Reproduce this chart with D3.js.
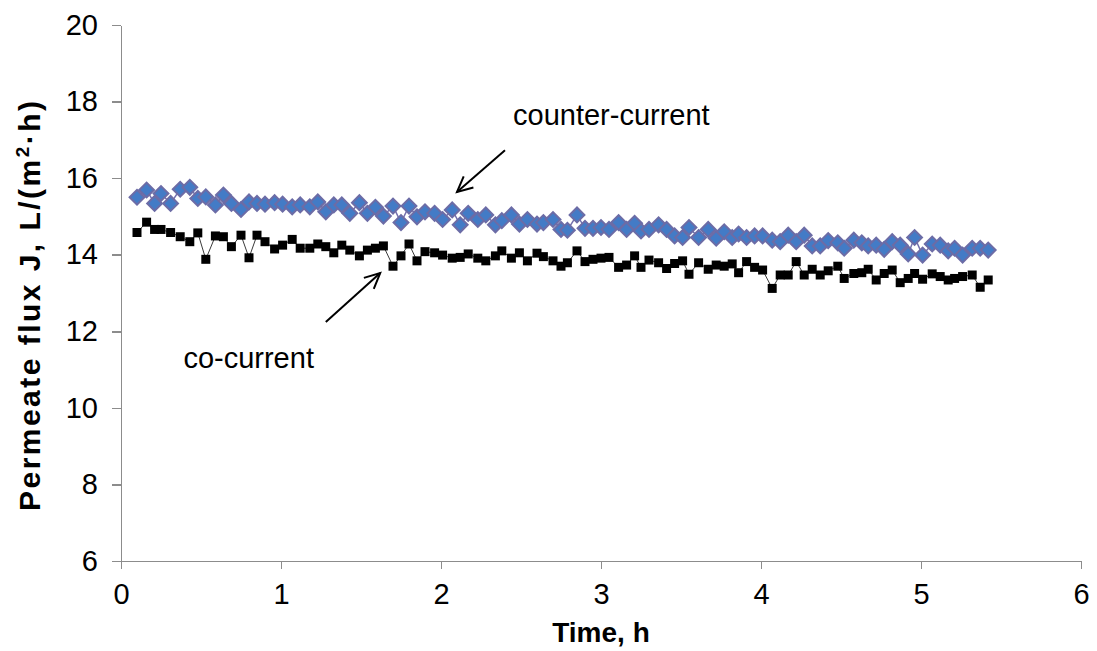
<!DOCTYPE html>
<html>
<head>
<meta charset="utf-8">
<title>Permeate flux</title>
<script src="https://d3js.org/d3.v7.min.js"></script>
<style>
  body { margin: 0; background: #fff; }
  .axis path, .axis line { stroke: #8c8c8c; stroke-width: 1.5; shape-rendering: crispEdges; }
  .axis text { font-family: "Liberation Sans", Arial, sans-serif; font-size: 29px; fill: #000; }
  .label { font-family: "Liberation Sans", Arial, sans-serif; font-size: 29px; fill: #000; }
  .title { font-family: "Liberation Sans", Arial, sans-serif; font-size: 28px; font-weight: bold; fill: #000; }
</style>
</head>
<body>
<svg id="chart" width="1097" height="651"></svg>
<script>
// time, h
const time = [0.10,0.16,0.21,0.25,0.31,0.37,0.43,0.48,0.53,0.59,0.64,0.69,0.75,0.80,0.85,0.90,0.96,1.01,1.07,1.12,
  1.18,1.23,1.28,1.33,1.38,1.43,1.49,1.54,1.59,1.64,1.70,1.75,1.80,1.85,1.90,1.96,2.01,2.07,2.12,2.17,
  2.23,2.28,2.34,2.38,2.44,2.49,2.54,2.60,2.64,2.70,2.75,2.79,2.85,2.90,2.95,3.00,3.05,3.11,3.16,3.21,3.25,
  3.30,3.36,3.41,3.46,3.51,3.55,3.61,3.67,3.72,3.77,3.82,3.86,3.91,3.96,4.01,4.07,4.12,4.17,4.22,4.27,4.32,
  4.37,4.42,4.48,4.52,4.58,4.63,4.67,4.72,4.77,4.82,4.87,4.92,4.96,5.01,5.07,5.12,5.17,5.21,5.26,5.32,5.37,5.42];

const counterCurrent = [15.50,15.69,15.34,15.60,15.34,15.71,15.76,15.47,15.51,15.30,15.56,15.34,15.18,15.38,15.34,15.32,15.36,15.32,15.25,15.30,
  15.25,15.38,15.12,15.30,15.30,15.08,15.36,15.08,15.24,15.01,15.27,14.84,15.27,14.99,15.12,15.08,14.92,15.17,14.78,15.08,
  14.92,15.04,14.78,14.89,15.04,14.80,14.92,14.80,14.84,14.92,14.66,14.64,15.04,14.69,14.69,14.71,14.66,14.84,14.66,14.82,14.62,
  14.66,14.78,14.66,14.49,14.45,14.71,14.45,14.66,14.43,14.60,14.45,14.54,14.45,14.49,14.49,14.38,14.34,14.51,14.34,14.51,14.23,
  14.23,14.37,14.31,14.17,14.38,14.31,14.23,14.25,14.14,14.34,14.25,14.02,14.45,13.99,14.28,14.25,14.10,14.17,13.99,14.17,14.17,14.12];

const coCurrent = [14.58,14.85,14.66,14.66,14.58,14.47,14.34,14.57,13.88,14.49,14.47,14.21,14.51,13.92,14.51,14.34,14.15,14.25,14.40,14.17,
  14.17,14.28,14.21,14.05,14.25,14.12,13.97,14.12,14.17,14.23,13.70,13.97,14.28,13.84,14.08,14.05,13.99,13.91,13.93,14.02,
  13.91,13.84,13.97,14.10,13.91,14.05,13.84,14.04,13.95,13.84,13.70,13.79,14.10,13.82,13.88,13.91,13.93,13.67,13.73,13.97,13.67,
  13.86,13.79,13.64,13.77,13.84,13.49,13.79,13.62,13.73,13.70,13.76,13.53,13.82,13.67,13.60,13.12,13.47,13.47,13.82,13.47,13.62,
  13.47,13.58,13.70,13.38,13.51,13.53,13.62,13.34,13.51,13.60,13.27,13.38,13.51,13.36,13.50,13.43,13.34,13.38,13.43,13.47,13.15,13.34];

const xTicks = [0, 1, 2, 3, 4, 5, 6];
const yTicks = [6, 8, 10, 12, 14, 16, 18, 20];

const svg = d3.select("#chart");
const margin = {top: 25, right: 16, bottom: 90, left: 121};
const width = +svg.attr("width");
const height = +svg.attr("height");

const x = d3.scaleLinear().domain([0, 6]).range([margin.left, width - margin.right]);
const y = d3.scaleLinear().domain([6, 20]).range([height - margin.bottom, margin.top]);

// axes
svg.append("g").attr("class", "axis")
  .attr("transform", "translate(0," + y(6) + ")")
  .call(d3.axisBottom(x).tickValues(xTicks).tickSize(8).tickSizeOuter(0).tickPadding(14).tickFormat(d3.format("d")));

svg.append("g").attr("class", "axis")
  .attr("transform", "translate(" + x(0) + ",0)")
  .call(d3.axisLeft(y).tickValues(yTicks).tickSize(9).tickSizeOuter(0).tickPadding(14).tickFormat(d3.format("d")));

const rows = time.map((t, i) => ({t: t, cc: counterCurrent[i], co: coCurrent[i]}));

// co-current series
svg.append("path").datum(rows)
  .attr("fill", "none").attr("stroke", "#3a3a3a").attr("stroke-width", 1)
  .attr("d", d3.line().x(d => x(d.t)).y(d => y(d.co)));

svg.append("g").selectAll("path").data(rows).join("path")
  .attr("d", d3.symbol(d3.symbolSquare, 81))
  .attr("transform", d => "translate(" + x(d.t) + "," + y(d.co) + ")")
  .attr("fill", "#000");

// counter-current series
svg.append("path").datum(rows)
  .attr("fill", "none").attr("stroke", "#7470ad").attr("stroke-width", 1.5)
  .attr("d", d3.line().x(d => x(d.t)).y(d => y(d.cc)));

svg.append("g").selectAll("path").data(rows).join("path")
  .attr("d", d3.symbol(d3.symbolSquare, 110))
  .attr("transform", d => "translate(" + x(d.t) + "," + y(d.cc) + ") rotate(45)")
  .attr("fill", "#437bc6").attr("stroke", "#6c6ca6").attr("stroke-width", 2);

// annotations
svg.append("text").attr("class", "label")
  .attr("x", x(2.45)).attr("y", y(17.4)).text("counter-current");
svg.append("text").attr("class", "label")
  .attr("x", x(0.39)).attr("y", y(11.05)).text("co-current");

function arrow(x1, y1, x2, y2) {
  const ang = Math.atan2(y2 - y1, x2 - x1);
  const len = 17, spread = 0.45;
  const g = svg.append("g").attr("stroke", "#000").attr("stroke-width", 2).attr("fill", "none");
  g.append("line").attr("x1", x1).attr("y1", y1).attr("x2", x2).attr("y2", y2);
  g.append("path").attr("d",
    "M" + (x2 - len * Math.cos(ang - spread)) + "," + (y2 - len * Math.sin(ang - spread)) +
    "L" + x2 + "," + y2 +
    "L" + (x2 - len * Math.cos(ang + spread)) + "," + (y2 - len * Math.sin(ang + spread)));
}
arrow(x(2.4), y(16.73), x(2.1), y(15.64));
arrow(x(1.28), y(12.24), x(1.62), y(13.52));

// axis titles
svg.append("text").attr("class", "title")
  .attr("x", (x(0) + x(6)) / 2).attr("y", 642).attr("text-anchor", "middle")
  .text("Time, h");

svg.append("text").attr("class", "title")
  .attr("transform", "translate(40," + 306 + ") rotate(-90)")
  .attr("text-anchor", "middle")
  .style("font-size", "30px")
  .attr("textLength", 410).attr("lengthAdjust", "spacing")
  .html("Permeate flux J, L/(m<tspan dy='-11' font-size='19'>2</tspan><tspan dy='11'>·h)</tspan>");
</script>
</body>
</html>
